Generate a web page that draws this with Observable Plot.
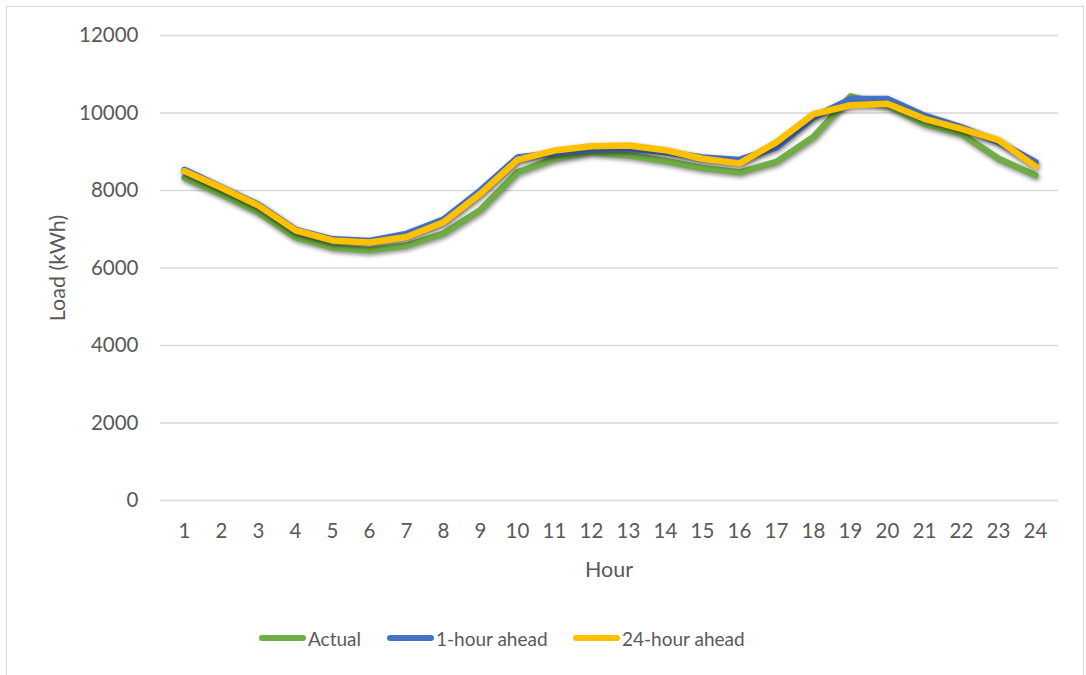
<!DOCTYPE html>
<html>
<head>
<meta charset="utf-8">
<script src="https://cdn.jsdelivr.net/npm/d3@7"></script>
<script src="https://cdn.jsdelivr.net/npm/@observablehq/plot@0.6"></script>
<style>
  html, body { margin: 0; padding: 0; background: #fff; }
  #frame { position: absolute; left: 6px; top: 6px; width: 1078px; height: 680px; border: 1.5px solid #d9d9d9; box-sizing: border-box; }
  #chart { position: absolute; left: 0; top: 0; width: 1086px; }
  #legend { position: absolute; left: 0; top: 623px; width: 1086px; height: 30px; font-family: Lato, "Open Sans", sans-serif; font-size: 19px; color: #595959; }
  .item { position: absolute; top: 0; height: 30px; display: flex; align-items: center; }
  .sw { width: 47px; height: 6.5px; border-radius: 3.25px; margin-right: 2px; }
</style>
</head>
<body>
<div id="frame"></div>
<div id="chart"></div>
<div id="legend"></div>
<script>
const hours = [1,2,3,4,5,6,7,8,9,10,11,12,13,14,15,16,17,18,19,20,21,22,23,24];
const actual    = [8330, 7900, 7440, 6790, 6530, 6460, 6580, 6890, 7500, 8470, 8820, 8990, 8910, 8760, 8580, 8470, 8740, 9380, 10430, 10190, 9720, 9460, 8820, 8390];
const oneHour   = [8530, 8080, 7630, 6980, 6740, 6700, 6880, 7250, 8000, 8850, 8960, 9060, 9080, 8990, 8850, 8790, 9120, 9890, 10360, 10360, 9930, 9630, 9250, 8730];
const dayAhead  = [8500, 8070, 7610, 6970, 6710, 6660, 6800, 7180, 7920, 8790, 9030, 9140, 9160, 9040, 8820, 8700, 9250, 9970, 10200, 10240, 9850, 9590, 9300, 8620];
const seriesNames = ["Actual", "1-hour ahead", "24-hour ahead"];
const seriesColors = ["#70AD47", "#4472C4", "#FFC000"];
const yTicks = [0, 2000, 4000, 6000, 8000, 10000, 12000];

const seriesValues = [actual, oneHour, dayAhead];
const rows = [];
seriesNames.forEach((name, i) => hours.forEach((h, j) => rows.push({series: name, hour: h, load: seriesValues[i][j]})));

const fontFamily = 'Lato, "Open Sans", sans-serif';
const W = 1086, H = 600;
const plot = Plot.plot({
  width: W,
  height: H,
  marginLeft: 160,
  marginRight: 28,
  marginTop: 35,
  marginBottom: 100,
  style: { fontFamily, fontSize: "21px", color: "#595959", background: "transparent", overflow: "visible" },
  x: { type: "point", domain: hours, padding: 0.5, label: null },
  y: { domain: [0, 12000], label: null },
  marks: [
    Plot.gridY(yTicks, { stroke: "#d9d9d9", strokeOpacity: 1, strokeWidth: 1.5 }),
    Plot.axisY(yTicks, { tickSize: 0, tickPadding: 22, label: null, fill: "#595959", fontSize: 20.5, tickFormat: d => String(d) }),
    Plot.axisX(hours, { tickSize: 0, tickPadding: 23, label: null, fill: "#595959", fontSize: 20.5, tickFormat: d => String(d) }),
    ...seriesNames.map((name, i) =>
      Plot.line(rows.filter(d => d.series === name), {
        x: "hour", y: "load", stroke: seriesColors[i], strokeWidth: 6.5,
        strokeLinejoin: "round", strokeLinecap: "round"
      })
    )
  ]
});

const svg = d3.select(plot);
svg.selectAll('g[aria-label="line"] path').style("filter", "drop-shadow(1px 2px 2px rgba(0,0,0,0.45))");
svg.append("text")
  .attr("transform", "translate(57,268) rotate(-90)")
  .attr("text-anchor", "middle").attr("dominant-baseline", "central")
  .attr("fill", "#595959").attr("font-size", 21.5).attr("font-family", fontFamily)
  .text("Load (kWh)");
svg.append("text")
  .attr("x", 609).attr("y", 569)
  .attr("text-anchor", "middle").attr("dominant-baseline", "central")
  .attr("fill", "#595959").attr("font-size", 21.5).attr("font-family", fontFamily)
  .text("Hour");
document.getElementById("chart").appendChild(plot);

const legendX = [259, 387, 573];
const legend = document.getElementById("legend");
seriesNames.forEach((name, i) => {
  const item = document.createElement("div");
  item.className = "item";
  item.style.left = legendX[i] + "px";
  const sw = document.createElement("div");
  sw.className = "sw";
  sw.style.background = seriesColors[i];
  const t = document.createElement("span");
  t.textContent = name;
  item.appendChild(sw);
  item.appendChild(t);
  legend.appendChild(item);
});
</script>
</body>
</html>
